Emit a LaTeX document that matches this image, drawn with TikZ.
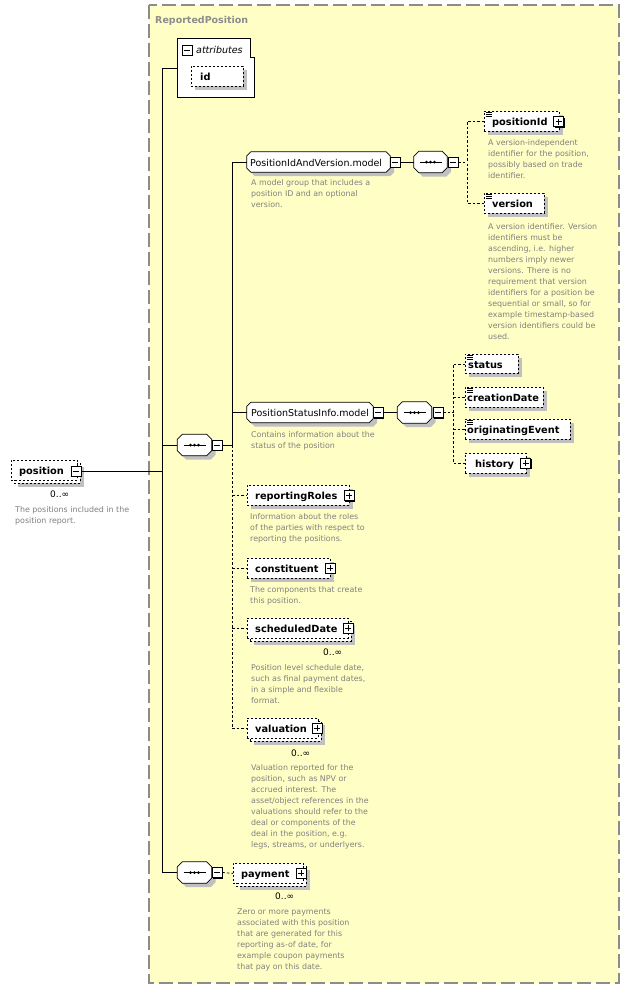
\documentclass[tikz,border=0pt]{standalone}
\usepackage{fontspec}
\setmainfont{DejaVu Sans}
\usetikzlibrary{shadows}
\definecolor{bgyellow}{HTML}{FFFFC5}
\definecolor{framegrey}{HTML}{8C8C8C}
\definecolor{descgrey}{HTML}{808080}
\definecolor{shgrey}{HTML}{C0C0C0}
\tikzset{
  shad/.style={general shadow={fill=shgrey,shadow xshift=4pt,shadow yshift=-4pt}},
  ebox/.style={draw,fill=white,line width=0.8pt,dash pattern=on 2pt off 2pt,inner sep=0pt,minimum height=20pt,anchor=north west},
  octnode/.style={rectangle,draw=none,inner sep=0pt,minimum height=20pt},
  seqbox/.style={octnode,minimum width=34pt,minimum height=21pt},
  togglebox/.style={draw,fill=white,line width=0.8pt,minimum size=10pt,inner sep=0pt,general shadow={fill=black,shadow xshift=1pt,shadow yshift=-1pt}},
  minusbox/.style={togglebox,path picture={\draw[line width=0.9pt] ([xshift=2pt]path picture bounding box.west) -- ([xshift=-2pt]path picture bounding box.east);}},
  plusbox/.style={togglebox,path picture={\draw[line width=0.9pt] ([xshift=2pt]path picture bounding box.west) -- ([xshift=-2pt]path picture bounding box.east) ([yshift=-2pt]path picture bounding box.north) -- ([yshift=2pt]path picture bounding box.south);}},
  lab/.style={anchor=base west,inner sep=0pt,font=\fontsize{9.8}{12}\selectfont\bfseries},
  mlab/.style={anchor=base west,inner sep=0pt,font=\fontsize{9.5}{12}\selectfont},
  desc/.style={anchor=north west,inner sep=0pt,align=left,text=descgrey,font=\fontsize{7.9}{11}\selectfont},
  occ/.style={anchor=base west,inner sep=0pt,font=\fontsize{9}{11}\selectfont},
  conn/.style={line width=0.8pt},
  dconn/.style={line width=0.8pt,dash pattern=on 2.5pt off 2pt},
}
\newcommand\octagon[2]{%
  \draw[fill=white,line width=0.8pt,shad] ([xshift=#2]#1.north west) -- ([xshift=-#2]#1.north east) -- ([yshift=-#2]#1.north east) -- ([yshift=#2]#1.south east) -- ([xshift=-#2]#1.south east) -- ([xshift=#2]#1.south west) -- ([yshift=#2]#1.south west) -- ([yshift=-#2]#1.north west) -- cycle;}
\newcommand\seqsym[1]{%
  \draw[line width=0.8pt] ([xshift=-11pt]#1.center) -- ([xshift=11pt]#1.center);
  \foreach \dx in {-4,0,4}{\fill ([xshift=\dx pt]#1.center) circle (1.5pt);}}
\newcommand\simpleicon[1]{%
  \foreach \dy in {1,3,5}{\draw[line width=0.6pt] ([xshift=1.5pt,yshift=-\dy pt]#1.north west) -- ++(6pt,0);}}
\begin{document}
\begin{tikzpicture}[x=1pt,y=-1pt]
\useasboundingbox (0,0) rectangle (630,989);
\fill[white] (0,0) rectangle (630,989);
\draw[framegrey,fill=bgyellow,line width=1.3pt,dash pattern=on 14pt off 5pt] (149,5) rectangle (619,983);
\node[anchor=base west,inner sep=0pt,text=framegrey,font=\fontsize{9.5}{11}\selectfont\bfseries] (title) at (155,23) {ReportedPosition};

% attributes
\draw[fill=white,line width=0.8pt] (177,38) -- (250,38) -- (250,57) -- (254,57) -- (254,97) -- (177,97) -- cycle;
\coordinate (attrW) at (177,68);
\node[minusbox] (attrm) at (187,50) {};
\node[anchor=base west,inner sep=0pt,font=\fontsize{9.5}{11}\selectfont\itshape] (attrt) at (196,53) {attributes};
\node[ebox,shad,minimum width=52pt] (id) at (191,66) {};
\node[lab] (idt) at (200,80) {id};

% position
\node[ebox,shad,minimum width=66pt] (posb) at (14,463) {};
\node[ebox,minimum width=66pt] (pos) at (11,460) {};
\node[lab] (post) at (19,474) {position};
\node[minusbox] (posm) at (76,471) {};
\node[occ] (posocc) at (50,497) {0..∞};
\node[desc] (posd) at (15,506) {The positions included in the\\position report.};

% main sequence
\node[seqbox] (seq1) at (194.5,445) {};
\octagon{seq1}{5pt}
\node[minusbox] (seq1m) at (217,445) {};
\seqsym{seq1}

% PositionIdAndVersion.model
\node[octnode,minimum width=143pt] (pidv) at (318.5,162) {};
\octagon{pidv}{4pt}
\node[mlab] (pidvt) at (250,166) {PositionIdAndVersion.model};
\node[minusbox] (pidvm) at (395,162) {};
\node[desc] (pidvd) at (251,179) {A model group that includes a\\position ID and an optional\\version.};
\node[seqbox,minimum width=33pt] (seq2) at (430.5,162) {};
\octagon{seq2}{5pt}
\node[minusbox] (seq2m) at (453,162) {};
\seqsym{seq2}

\node[ebox,shad,minimum width=75pt] (pid) at (484,111) {};
\simpleicon{pid}
\node[lab] (pidt) at (492,125) {positionId};
\node[plusbox] (pidp) at (558.5,121.5) {};
\node[desc] (pidd) at (488,139) {A version-independent\\identifier for the position,\\possibly based on trade\\identifier.};

\node[ebox,shad,minimum width=60pt] (ver) at (484,193) {};
\simpleicon{ver}
\node[lab] (vert) at (492,207) {version};
\node[desc] (verd) at (488,223) {A version identifier. Version\\identifiers must be\\ascending, i.e. higher\\numbers imply newer\\versions. There is no\\requirement that version\\identifiers for a position be\\sequential or small, so for\\example timestamp-based\\version identifiers could be\\used.};

% PositionStatusInfo.model
\node[octnode,minimum width=126pt] (psi) at (310,412.5) {};
\octagon{psi}{4pt}
\node[mlab] (psit) at (251,416.5) {PositionStatusInfo.model};
\node[minusbox] (psim) at (378,412.5) {};
\node[desc] (psid) at (251,431) {Contains information about the\\status of the position};
\node[seqbox] (seq3) at (414.5,412.5) {};
\octagon{seq3}{5pt}
\node[minusbox] (seq3m) at (438,412.5) {};
\seqsym{seq3}

\node[ebox,shad,minimum width=53pt,minimum height=19pt] (status) at (465,354) {};
\simpleicon{status}
\node[lab] (statust) at (468,368) {status};
\node[ebox,shad,minimum width=78pt] (cdate) at (465,387) {};
\simpleicon{cdate}
\node[lab] (cdatet) at (467,401) {creationDate};
\node[ebox,shad,minimum width=105pt] (oevent) at (465,419) {};
\simpleicon{oevent}
\node[lab] (oeventt) at (467,433) {originatingEvent};
\node[ebox,shad,minimum width=61pt] (hist) at (465,453) {};
\node[lab] (histt) at (475,467) {history};
\node[plusbox] (histp) at (525.5,463) {};

% optional elements
\node[ebox,shad,minimum width=102pt] (rroles) at (247,485) {};
\node[lab] (rrolest) at (255,499) {reportingRoles};
\node[plusbox] (rrolesp) at (349,495.5) {};
\node[desc] (rrolesd) at (250,513) {Information about the roles\\of the parties with respect to\\reporting the positions.};

\node[ebox,shad,minimum width=83pt] (const) at (247,558) {};
\node[lab] (constt) at (255,572) {constituent};
\node[plusbox] (constp) at (330,568) {};
\node[desc] (constd) at (250,586) {The components that create\\this position.};

\node[ebox,shad,minimum width=101pt] (sdateb) at (250,621) {};
\node[ebox,minimum width=101pt] (sdate) at (247,618) {};
\node[lab] (sdatet) at (255,632) {scheduledDate};
\node[plusbox] (sdatep) at (348,628) {};
\node[occ] (sdateocc) at (323,655) {0..∞};
\node[desc] (sdated) at (251,664) {Position level schedule date,\\such as final payment dates,\\in a simple and flexible\\format.};

\node[ebox,shad,minimum width=71pt] (valb) at (250,721) {};
\node[ebox,minimum width=71pt] (val) at (247,718) {};
\node[lab] (valt) at (255,732) {valuation};
\node[plusbox] (valp) at (317,728) {};
\node[occ] (valocc) at (291,756) {0..∞};
\node[desc] (vald) at (251,764) {Valuation reported for the\\position, such as NPV or\\accrued interest. The\\asset/object references in the\\valuations should refer to the\\deal or components of the\\deal in the position, e.g.\\legs, streams, or underlyers.};

% payment
\node[seqbox] (seq4) at (194.5,872.5) {};
\octagon{seq4}{5pt}
\node[minusbox] (seq4m) at (217,872.5) {};
\seqsym{seq4}
\node[ebox,shad,minimum width=70pt] (payb) at (236,866) {};
\node[ebox,minimum width=70pt] (pay) at (233,863) {};
\node[lab] (payt) at (241,877) {payment};
\node[plusbox] (payp) at (301,873) {};
\node[occ] (payocc) at (275,899) {0..∞};
\node[desc] (payd) at (237,909) {Zero or more payments\\associated with this position\\that are generated for this\\reporting as-of date, for\\example coupon payments\\that pay on this date.};

% connectors
\coordinate (trunkTop) at (162,68);
\coordinate (br1) at (232,445);
\coordinate (br2) at (467,162);
\coordinate (br3) at (453,412.5);
\draw[conn] (attrW) -- (trunkTop) |- (seq4.west);
\draw[conn] (posm.east) -- (posm.east -| trunkTop);
\draw[conn] (seq1.west -| trunkTop) -- (seq1.west);
\draw[conn] (seq1m.east) -- (br1);
\draw[conn] (pidv.west) -| (br1);
\draw[conn] (psi.west) -- (psi.west -| br1);
\draw[dconn] (br1) |- (val.west);
\draw[dconn] (rroles.west -| br1) -- (rroles.west);
\draw[dconn] (const.west -| br1) -- (const.west);
\draw[dconn] (sdate.west -| br1) -- (sdate.west);
\draw[conn] (pidvm.east) -- (seq2.west);
\draw[dconn] (seq2m.east) -- (br2);
\draw[dconn] (pid.west) -| (br2);
\draw[dconn] (ver.west) -| (br2);
\draw[conn] (psim.east) -- (seq3.west);
\draw[dconn] (seq3m.east) -- (br3);
\draw[dconn] (status.west) -| (br3);
\draw[dconn] (hist.west) -| (br3);
\draw[dconn] (cdate.west -| br3) -- (cdate.west);
\draw[dconn] (oevent.west -| br3) -- (oevent.west);
\draw[dconn] (seq4m.east) -- (pay.west);
\end{tikzpicture}
\end{document}
